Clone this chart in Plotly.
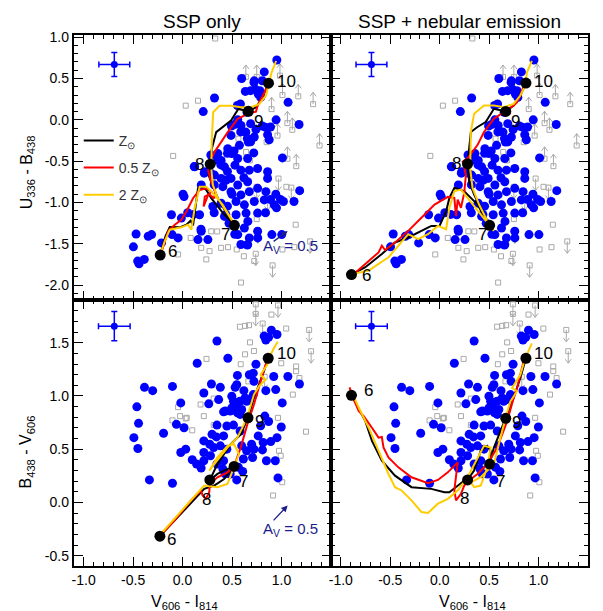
import plotly.graph_objects as go

# ---------------- data ----------------
AGE_LABELS = ["6", "7", "8", "9", "10"]
X_TICKS = [-1.0, -0.5, 0.0, 0.5, 1.0]
X_TICK_TEXT = ["-1.0", "-0.5", "0.0", "0.5", "1.0"]
UB_TICKS = [-2.0, -1.5, -1.0, -0.5, 0.0, 0.5, 1.0]
UB_TICK_TEXT = ["-2.0", "-1.5", "-1.0", "-0.5", "0.0", "0.5", "1.0"]
BV_TICKS = [-0.5, 0.0, 0.5, 1.0, 1.5]
BV_TICK_TEXT = ["-0.5", "0.0", "0.5", "1.0", "1.5"]

# observed galaxies, V606-I814 vs U336-B438
UB_OBS_X = [0.953, 0.826, 0.598, 0.725, 0.806, 0.735, 0.635, 0.765, 0.323, 0.79, 1.067, 0.585,
            0.209, 0.652, 0.946, 0.558, 1.178, 0.524, 0.591, 0.742, 0.836, 0.64, 0.725, 0.86,
            0.665, 0.69, 0.876, 0.49, 0.575, 0.457, 0.357, 0.497, 0.558, 0.658, 1.01, 0.39,
            0.424, 0.53, 0.59, 0.675, 0.759, 0.86, 0.86, 0.122, 0.223, 0.323, 0.39, 0.49,
            0.558, 0.658, 0.407, 0.49, 0.59, 0.675, 0.759, 0.843, 1.184, 0.943, 0.826, 0.725,
            0.625, 0.541, 0.39, 0.306, 0.005, 0.015, 0.189, 1.02, 1.127, 0.926, 0.759, 0.642,
            0.541, 0.424, 0.66, 0.759, 0.625, 0.558, 0.675, 0.76, 0.658, 0.59, 0.903, 1.003,
            0.172, -0.012, -0.112, 0.189, 0.156, -0.106, -0.213, -0.47, -0.347, -0.313, -0.497,
            -0.454, -0.387, -0.44, -0.045, 0.256, 0.99, 0.95, 0.889, 0.839, 0.454, 0.437,
            0.32, 0.528, 0.655, 0.186, 0.722, 0.688, 0.782, 0.555, 0.494, 0.688, 0.806,
            0.889, 0.588, 0.655, 0.688, 0.454, 0.521, 0.286, 0.354, 0.387, 0.454, 0.44,
            0.286, 0.32, 0.219, 0.052, 0.112, 0.118, 0.62, 0.72, 0.5, 0.47]
UB_OBS_Y = [0.724, 0.58, 0.50, 0.472, 0.473, 0.372, 0.344, 0.312, 0.264, 0.272, 0.212, 0.192,
            0.10, 0.092, 0.0, 0.0, -0.056, -0.056, -0.068, -0.116, -0.088, -0.148, -0.208, -0.18,
            -0.268, -0.25, -0.24, -0.188, -0.308, -0.348, -0.408, -0.408, -0.468, -0.468, -0.46,
            -0.49, -0.568, -0.548, -0.608, -0.608, -0.588, -0.628, -0.708, -0.568, -0.628,
            -0.668, -0.708, -0.708, -0.788, -0.748, -0.808, -0.868, -0.908, -0.868, -0.828,
            -0.868, -0.856, -0.9, -0.968, -0.988, -1.028, -0.988, -1.008, -1.048, -0.9, -0.928,
            -0.788, -0.988, -0.988, -1.028, -1.128, -1.128, -1.148, -1.168, -1.228, -1.348,
            -1.308, -1.388, -1.428, -1.428, -1.508, -1.508, -1.388, -1.388, -1.148, -1.188,
            -1.148, -1.348, -1.448, -1.388, -1.488, -1.38, -1.408, -1.388, -1.536, -1.708,
            -1.688, -1.74, -1.428, -1.448, -0.964, -1.064, -0.964, -1.124, -1.044, -1.144,
            -1.124, -1.383, -1.515, -1.323, 0.453, 0.353, 0.353, 0.174, -0.074, -0.046, -0.074,
            -0.086, -0.146, -0.225, -0.265, -0.405, -0.377, -0.425, -0.485, -0.545, -0.625,
            -0.73, -0.645, -0.785, -0.645, -1.124, -1.144, -0.565, -0.70, -0.40, -0.90, -1.25]

# observed galaxies, V606-I814 vs B438-V606
BV_OBS_X = [0.348, 0.148, 0.458, 0.898, 0.825, 0.955, 0.842, 0.87, 0.742, 0.715, 0.675, 0.555,
            0.548, 0.532, 0.292, 0.382, 0.215, 0.265, 0.498, 0.515, 0.532, 0.432, 0.632, 0.722,
            0.842, 0.922, 0.942, 1.065, 1.182, 1.008, -0.385, -0.302, -0.102, -0.462, -0.018,
            -0.445, -0.192, -0.062, 0.015, -0.492, -0.452, 0.032, -0.018, 0.098, 0.142, -0.335,
            -0.102, 0.365, 0.598, 0.555, 0.498, 0.675, 0.715, 0.415, 0.348, 0.448, 0.515,
            0.582, 0.298, 0.342, 0.415, 0.215, 0.275, 0.315, 0.382, 0.448, 0.215, 0.282, 0.415,
            0.215, 0.188, 0.348, 0.408, 0.598, 0.648, 0.698, 0.722, 0.615, 0.708, 0.565, 0.608,
            0.548, 0.482, 0.765, 0.815, 0.808, 0.892, 0.848, 0.938, 0.955, 0.998, 0.965, 0.832,
            0.87, 0.79, 0.648, 0.582, 0.482, 0.43, 0.62, 0.58]
BV_OBS_Y = [1.516, 1.307, 1.354, 1.618, 1.562, 1.577, 1.525, 1.55, 1.298, 1.214, 1.199, 1.193,
            1.106, 1.081, 1.112, 1.081, 1.028, 0.926, 0.997, 0.951, 0.913, 0.858, 0.981, 1.137,
            1.05, 1.183, 1.06, 1.183, 1.112, 0.935, 1.081, 1.05, 1.09, 0.898, 0.935, 0.743, 0.65,
            0.734, 0.702, 0.609, 0.507, 0.501, 0.469, 0.401, 0.361, 0.212, 0.181, 0.966, 0.873,
            0.842, 0.888, 0.966, 1.013, 0.851, 0.727, 0.718, 0.727, 0.671, 0.64, 0.616, 0.625,
            0.578, 0.547, 0.516, 0.532, 0.501, 0.469, 0.439, 0.392, 0.392, 0.324, 0.361, 0.315,
            0.532, 0.485, 0.547, 0.501, 0.408, 0.423, 0.33, 0.292, 0.212, 0.268, 0.625, 0.563,
            0.494, 0.572, 0.392, 0.392, 0.609, 0.709, 0.231, 0.811, 0.76, 0.72, 0.951, 0.827,
            0.858, 0.27, 1.05, 0.95]

# limits (grey squares): direction +1 = arrow up, -1 = arrow down, 0 = none
UB_LIM_X = [0.64, 0.75, 0.985, 1.01, 1.17, 1.32, 0.90, 1.06, 1.11, 0.96, 0.85, 1.385, 1.06,
            1.15, 0.97, 1.10, 0.75, 0.86, 0.76, 1.29, 0.91, 0.74, 0.33, 0.156, 0.032, -0.095,
            0.565, 0.642, 1.144, 0.082, 0.189, 0.24, 0.273, 0.39, 0.548, 0.725, 0.591, 1.01,
            0.29, -0.045, 0.62, 0.46, 1.13, 0.35, 0.75, 1.05, 0.68]
UB_LIM_Y = [0.52, 0.52, 0.535, 0.30, 0.285, 0.19, 0.13, -0.04, -0.12, -0.19, -0.27, -0.31,
            -0.47, -0.56, -0.71, -0.82, -0.81, -0.95, -1.35, -1.47, -1.76, -1.62, 0.984, 0.232,
            0.172, -0.436, -0.228, -0.388, -1.268, -1.428, -1.548, -1.688, -1.588, -1.548,
            -1.568, -1.708, -1.968, -1.568, -1.348, -1.628, -1.65, -1.54, -1.54, -1.35, -1.2,
            -0.81, -0.49]
UB_LIM_DIR = [1, 1, 1, 1, 1, 1, 1, 1, 1, 1, 1, 1, 1, 1, -1, -1, -1, -1, -1, -1, -1, -1,
              0, 0, 0, 0, 0, 0, 0, 0, 0, 0, 0, 0, 0, 0, 0, 0, 0, 0, 0, 0, 0, 0, 0, 0, 0]

BV_LIM_X = [0.74, 0.74, 0.81, 0.965, 1.28, 1.30, 0.83, 0.632, 0.682, 0.722, 0.632, 0.588,
            0.242, 0.998, 1.148, 1.148, 1.182, 1.048, 0.665, 0.365, 0.182, 0.215, 0.042, 0.965,
            -0.045, -0.025, 0.032, -0.102, 0.098, 0.315, 0.315, 0.975, 1.008, 0.915, 1.115,
            1.248, 0.992, 0.898, 0.58, 0.672]
BV_LIM_Y = [1.86, 1.77, 1.68, 1.85, 1.62, 1.42, 1.18, 1.658, 1.503, 1.422, 1.391, 1.298,
            1.348, 1.307, 1.277, 1.233, 1.168, 1.633, 1.137, 0.976, 0.92, 0.811, 0.795, 0.795,
            0.895, 0.811, 0.789, 0.771, 0.678, 0.976, 0.727, 0.485, 0.19, 0.066, 1.013, 0.665,
            0.439, 1.764, 1.65, 1.664]
BV_LIM_DIR = [-1, -1, -1, -1, -1, -1, -1, 0, 0, 0, 0, 0, 0, 0, 0, 0, 0, 0, 0, 0, 0, 0, 0, 0,
              0, 0, 0, 0, 0, 0, 0, 0, 0, 0, 0, 0, 0, 0, 0, 0]

# ---- model tracks: SSP only, U-B ----
SSP_UB_Z1_X = [-0.226, -0.173, -0.129, -0.028, 0.039, 0.082, 0.106, 0.156, 0.189, 0.24, 0.29,
               0.357, 0.424, 0.49, 0.524, 0.457, 0.373, 0.307, 0.263, 0.28, 0.296, 0.34, 0.407,
               0.49, 0.564, 0.665, 0.742, 0.809, 0.869]
SSP_UB_Z1_Y = [-1.636, -1.408, -1.296, -1.30, -1.268, -1.22, -1.276, -0.828, -0.808, -0.848,
               -0.948, -1.048, -1.148, -1.228, -1.276, -1.148, -0.988, -0.808, -0.668, -0.536,
               -0.348, -0.148, -0.088, -0.008, 0.132, 0.104, 0.152, 0.272, 0.444]
SSP_UB_Z05_X = [-0.226, -0.186, -0.146, -0.079, -0.012, 0.039, 0.106, 0.173, 0.24, 0.29, 0.255,
                0.213, 0.225, 0.27, 0.32, 0.33, 0.29, 0.26, 0.273, 0.323, 0.39, 0.457, 0.558,
                0.658, 0.742, 0.759, 0.826, 0.859]
SSP_UB_Z05_Y = [-1.648, -1.508, -1.348, -1.268, -1.208, -1.108, -0.948, -0.848, -0.828, -0.868,
                -0.92, -1.048, -0.93, -0.90, -0.95, -0.87, -0.75, -0.62, -0.508, -0.388, -0.268,
                -0.148, 0.012, 0.072, 0.10, 0.172, 0.324, 0.412]
SSP_UB_Z2_X = [-0.22, -0.18, -0.129, -0.012, 0.055, 0.089, 0.122, 0.173, 0.24, 0.323, 0.407,
               0.49, 0.558, 0.54, 0.457, 0.357, 0.307, 0.29, 0.296, 0.31, 0.374, 0.49, 0.59,
               0.692, 0.776, 0.843, 0.876, 0.9, 0.946]
SSP_UB_Z2_Y = [-1.608, -1.468, -1.328, -1.30, -1.268, -1.328, -1.068, -0.808, -0.808, -0.908,
               -1.028, -1.188, -1.328, -1.30, -1.128, -0.948, -0.788, -0.588, -0.228, 0.092,
               0.172, 0.172, 0.152, 0.152, 0.192, 0.292, 0.452, 0.572, 0.712]
SSP_UB_AGE_X = [-0.226, 0.524, 0.28, 0.665, 0.869]
SSP_UB_AGE_Y = [-1.636, -1.276, -0.536, 0.104, 0.444]

# ---- model tracks: SSP + nebular, U-B ----
NEB_UB_Z1_X = [-0.892, -0.752, -0.585, -0.452, -0.318, -0.218, -0.085, -0.002, 0.065, 0.098,
               0.148, 0.182, 0.248, 0.315, 0.382, 0.448, 0.505, 0.465, 0.398, 0.348, 0.298,
               0.282, 0.298, 0.315, 0.382, 0.465, 0.548, 0.668, 0.748, 0.815, 0.872]
NEB_UB_Z1_Y = [-1.871, -1.782, -1.623, -1.483, -1.423, -1.363, -1.283, -1.283, -1.104, -0.944,
               -0.824, -0.832, -0.864, -0.944, -1.024, -1.164, -1.275, -1.184, -1.024, -0.904,
               -0.745, -0.533, -0.345, -0.146, -0.086, -0.026, 0.134, 0.102, 0.174, 0.294, 0.445]
NEB_UB_Z05_X = [-0.885, -0.752, -0.618, -0.585, -0.552, -0.452, -0.318, -0.185, -0.052, 0.082,
                0.148, 0.165, 0.182, 0.215, 0.248, 0.265, 0.232, 0.282, 0.382, 0.448, 0.548,
                0.648, 0.748, 0.782, 0.815, 0.848]
NEB_UB_Z05_Y = [-1.883, -1.743, -1.603, -1.523, -1.575, -1.483, -1.343, -1.184, -1.024, -0.932,
                -0.944, -1.164, -0.964, -1.064, -0.884, -0.665, -0.505, -0.465, -0.305, -0.146,
                0.014, 0.094, 0.174, 0.214, 0.294, 0.413]
NEB_UB_Z2_X = [-0.868, -0.718, -0.518, -0.385, -0.318, -0.218, -0.118, -0.018, 0.065, 0.098,
               0.148, 0.215, 0.282, 0.365, 0.448, 0.548, 0.482, 0.398, 0.332, 0.308, 0.315,
               0.348, 0.448, 0.548, 0.648, 0.748, 0.815, 0.865, 0.882, 0.932]
NEB_UB_Z2_Y = [-1.863, -1.823, -1.663, -1.483, -1.383, -1.443, -1.383, -1.283, -1.323, -1.064,
               -0.864, -0.844, -0.944, -1.064, -1.184, -1.343, -1.224, -1.024, -0.824, -0.585,
               -0.146, 0.074, 0.174, 0.174, 0.154, 0.194, 0.294, 0.413, 0.573, 0.713]
NEB_UB_AGE_X = [-0.892, 0.505, 0.282, 0.668, 0.872]
NEB_UB_AGE_Y = [-1.871, -1.275, -0.533, 0.102, 0.445]

# ---- model tracks: SSP only, B-V ----
SSP_BV_Z1_X = [-0.229, -0.049, 0.119, 0.219, 0.32, 0.42, 0.521, 0.454, 0.353, 0.276, 0.353,
               0.487, 0.588, 0.662, 0.722, 0.789, 0.822, 0.866]
SSP_BV_Z1_Y = [-0.316, -0.136, 0.035, 0.128, 0.159, 0.221, 0.339, 0.314, 0.268, 0.212, 0.361,
               0.547, 0.64, 0.795, 0.982, 1.137, 1.23, 1.354]
SSP_BV_Z05_X = [-0.229, -0.082, 0.085, 0.186, 0.203, 0.236, 0.27, 0.276, 0.353, 0.454, 0.521,
                0.588, 0.655, 0.722, 0.789, 0.839, 0.873]
SSP_BV_Z05_Y = [-0.316, -0.167, 0.019, 0.113, 0.066, 0.035, 0.097, 0.175, 0.237, 0.283, 0.339,
                0.516, 0.733, 0.92, 1.137, 1.292, 1.37]
SSP_BV_Z2_X = [-0.216, -0.049, 0.119, 0.219, 0.353, 0.454, 0.487, 0.521, 0.571, 0.521, 0.454,
               0.353, 0.27, 0.32, 0.454, 0.554, 0.621, 0.672, 0.722, 0.772, 0.839, 0.789,
               0.856, 0.889, 0.923, 0.963]
SSP_BV_Z2_Y = [-0.291, -0.12, 0.051, 0.159, 0.144, 0.175, 0.252, 0.339, 0.454, 0.547, 0.532,
               0.423, 0.299, 0.361, 0.516, 0.609, 0.733, 0.858, 1.013, 1.09, 1.152, 1.199,
               1.292, 1.385, 1.447, 1.509]
SSP_BV_AGE_X = [-0.229, 0.521, 0.276, 0.662, 0.866]
SSP_BV_AGE_Y = [-0.316, 0.339, 0.212, 0.795, 1.354]

# ---- model tracks: SSP + nebular, B-V ----
NEB_BV_Z1_X = [-0.892, -0.818, -0.752, -0.685, -0.585, -0.452, -0.285, -0.085, 0.048, 0.098,
               0.165, 0.248, 0.282, 0.348, 0.415, 0.482, 0.515, 0.505, 0.548, 0.615, 0.668,
               0.748, 0.815, 0.872]
NEB_BV_Z1_Y = [1.006, 0.873, 0.764, 0.578, 0.392, 0.252, 0.144, 0.128, 0.097, 0.097, 0.144,
               0.206, 0.212, 0.299, 0.485, 0.532, 0.485, 0.361, 0.516, 0.671, 0.789, 0.982,
               1.168, 1.354]
NEB_BV_Z05_X = [-0.912, -0.868, -0.818, -0.768, -0.685, -0.618, -0.585, -0.568, -0.518, -0.418,
                -0.285, -0.118, -0.018, 0.082, 0.182, 0.165, 0.148, 0.165, 0.215, 0.248, 0.298,
                0.382, 0.482, 0.582, 0.648, 0.682, 0.748, 0.782, 0.815, 0.848]
NEB_BV_Z05_Y = [1.081, 0.966, 0.857, 0.811, 0.702, 0.609, 0.615, 0.516, 0.423, 0.33, 0.237,
                0.181, 0.212, 0.283, 0.377, 0.237, 0.113, 0.02, 0.082, 0.159, 0.206, 0.268,
                0.361, 0.516, 0.671, 0.764, 0.982, 1.075, 1.199, 1.323]
NEB_BV_Z2_X = [-0.892, -0.818, -0.718, -0.618, -0.518, -0.452, -0.385, -0.285, -0.185, -0.118,
               -0.018, 0.082, 0.182, 0.282, 0.382, 0.448, 0.515, 0.482, 0.415, 0.348, 0.315,
               0.415, 0.548, 0.632, 0.665, 0.715, 0.782, 0.732, 0.815, 0.865, 0.932]
NEB_BV_Z2_Y = [1.044, 0.889, 0.702, 0.485, 0.268, 0.144, 0.113, 0.02, -0.089, -0.098, -0.011,
               0.035, 0.113, 0.237, 0.423, 0.532, 0.516, 0.33, 0.159, 0.144, 0.19, 0.237, 0.361,
               0.671, 0.795, 0.95, 1.044, 1.075, 1.199, 1.354, 1.494]
NEB_BV_AGE_X = [-0.892, 0.505, 0.282, 0.668, 0.872]
NEB_BV_AGE_Y = [1.006, 0.361, 0.212, 0.79, 1.354]

# error-bar cross and reddening vector
ERR_UB = dict(x=-0.69, y=0.67, ex=0.156, ey=0.144)
ERR_BV = dict(x=-0.69, y=1.655, ex=0.16, ey=0.137)
AV_UB = dict(x0=0.906, y0=-1.483, x1=1.063, y1=-1.344)
AV_BV = dict(x0=0.906, y0=-0.182, x1=1.063, y1=-0.027)

# ---------------- style ----------------
W, H = 603, 611
FONT = "Liberation Sans, Arial, Helvetica, sans-serif"
XR = [-1.1, 1.5]
UBR = [-2.18, 1.03]
BVR = [-0.6, 1.9]
PX_L, PX_M, PX_R = 72, 330, 588
PY_T, PY_M, PY_B = 29, 297, 566
BLUE = "#0000ff"
GREY = "#a9a9a9"
RED = "#ff0000"
YELLOW = "#ffcc00"
NAVY = "#1c1c8c"

fig = go.Figure()

panels = [  # (xaxis, yaxis, yrange)
    ("x", "y", UBR), ("x2", "y2", UBR), ("x3", "y3", BVR), ("x4", "y4", BVR)]


def ppu(panel):
    xr = XR[1] - XR[0]
    yr = panel[2][1] - panel[2][0]
    return (PX_M - PX_L) / xr, (PY_M - PY_T) / yr


def add_limits(panel, lx, ly, ld):
    xa, ya, _ = panel
    px, py = ppu(panel)
    L, hw, hh = 12 / py, 3.0 / px, 4.0 / py
    sx, sy = [], []
    for x, y, d in zip(lx, ly, ld):
        if d == 0:
            continue
        tip = y + d * L
        sx += [x, x, None, x - hw, x, x + hw, None]
        sy += [y, tip, None, tip - d * hh, tip, tip - d * hh, None]
    fig.add_trace(go.Scatter(x=sx, y=sy, mode="lines", xaxis=xa, yaxis=ya,
                             line=dict(color=GREY, width=1), showlegend=False,
                             hoverinfo="skip"))
    fig.add_trace(go.Scatter(x=lx, y=ly, mode="markers", xaxis=xa, yaxis=ya,
                             marker=dict(symbol="square-open", size=5, color=GREY,
                                         line=dict(width=1, color=GREY)),
                             showlegend=False))


def add_err(panel, e):
    xa, ya, _ = panel
    fig.add_trace(go.Scatter(x=[e["x"]], y=[e["y"]], mode="markers", xaxis=xa, yaxis=ya,
                             marker=dict(color=BLUE, size=7),
                             error_x=dict(type="data", array=[e["ex"]], color=BLUE,
                                          thickness=1.5, width=3),
                             error_y=dict(type="data", array=[e["ey"]], color=BLUE,
                                          thickness=1.5, width=3),
                             showlegend=False))


def add_tracks(panel, tracks, legend):
    xa, ya, _ = panel
    for (tx, ty, col, name) in tracks:
        fig.add_trace(go.Scatter(x=tx, y=ty, mode="lines", xaxis=xa, yaxis=ya,
                                 line=dict(color=col, width=2), name=name,
                                 legendgroup=name, showlegend=legend))


names = ["Z<sub>⊙</sub>", "0.5 Z<sub>⊙</sub>", "2 Z<sub>⊙</sub>"]
setups = [
    (panels[0], UB_OBS_X, UB_OBS_Y, UB_LIM_X, UB_LIM_Y, UB_LIM_DIR, ERR_UB,
     [(SSP_UB_Z1_X, SSP_UB_Z1_Y, "black", names[0]),
      (SSP_UB_Z05_X, SSP_UB_Z05_Y, RED, names[1]),
      (SSP_UB_Z2_X, SSP_UB_Z2_Y, YELLOW, names[2])], SSP_UB_AGE_X, SSP_UB_AGE_Y, True,
     [(12, 4), (-9, -9), (-11, 0), (10, -10), (18, 2)]),
    (panels[1], UB_OBS_X, UB_OBS_Y, UB_LIM_X, UB_LIM_Y, UB_LIM_DIR, ERR_UB,
     [(NEB_UB_Z1_X, NEB_UB_Z1_Y, "black", names[0]),
      (NEB_UB_Z05_X, NEB_UB_Z05_Y, RED, names[1]),
      (NEB_UB_Z2_X, NEB_UB_Z2_Y, YELLOW, names[2])], NEB_UB_AGE_X, NEB_UB_AGE_Y, False,
     [(15, -1), (-7, -9), (-11, 0), (10, -10), (18, 2)]),
    (panels[2], BV_OBS_X, BV_OBS_Y, BV_LIM_X, BV_LIM_Y, BV_LIM_DIR, ERR_BV,
     [(SSP_BV_Z1_X, SSP_BV_Z1_Y, "black", names[0]),
      (SSP_BV_Z05_X, SSP_BV_Z05_Y, RED, names[1]),
      (SSP_BV_Z2_X, SSP_BV_Z2_Y, YELLOW, names[2])], SSP_BV_AGE_X, SSP_BV_AGE_Y, False,
     [(12, -3), (9, -15), (-3, -20), (11, -4), (18, 5)]),
    (panels[3], BV_OBS_X, BV_OBS_Y, BV_LIM_X, BV_LIM_Y, BV_LIM_DIR, ERR_BV,
     [(NEB_BV_Z1_X, NEB_BV_Z1_Y, "black", names[0]),
      (NEB_BV_Z05_X, NEB_BV_Z05_Y, RED, names[1]),
      (NEB_BV_Z2_X, NEB_BV_Z2_Y, YELLOW, names[2])], NEB_BV_AGE_X, NEB_BV_AGE_Y, False,
     [(17, 5), (11, -17), (-3, -19), (11, -4), (18, 5)]),
]

annotations = []
for (panel, ox, oy, lx, ly, ld, err, tracks, agx, agy, leg, offs) in setups:
    xa, ya, _ = panel
    add_limits(panel, lx, ly, ld)
    fig.add_trace(go.Scatter(x=ox, y=oy, mode="markers", xaxis=xa, yaxis=ya,
                             marker=dict(color=BLUE, size=9), showlegend=False))
    add_err(panel, err)
    add_tracks(panel, tracks, leg)
    fig.add_trace(go.Scatter(x=agx, y=agy, mode="markers", xaxis=xa, yaxis=ya,
                             marker=dict(color="black", size=11), showlegend=False))
    for lab, x, y, (dx, dy) in zip(AGE_LABELS, agx, agy, offs):
        annotations.append(dict(x=x, y=y, xref=xa, yref=ya, text=lab, showarrow=False,
                                xanchor="center", yanchor="middle",
                                xshift=dx, yshift=dy,
                                font=dict(family=FONT, size=17, color="black")))

# reddening vectors (left panels only)
for av, (xa, ya), tshift in [(AV_UB, ("x", "y"), -4), (AV_BV, ("x3", "y3"), -8)]:
    annotations.append(dict(x=av["x1"], y=av["y1"], ax=av["x0"], ay=av["y0"],
                            xref=xa, yref=ya, axref=xa, ayref=ya, text="",
                            showarrow=True, arrowhead=2, arrowsize=1, arrowwidth=1.3,
                            arrowcolor=NAVY))
    annotations.append(dict(x=av["x0"], y=av["y0"], xref=xa, yref=ya,
                            text="A<sub>V</sub> = 0.5", showarrow=False,
                            xanchor="left", yanchor="middle", xshift=-11, yshift=tshift,
                            font=dict(family=FONT, size=15, color=NAVY)))

# titles
xc_l = (PX_L + PX_M) / 2 / W
xc_r = (PX_M + PX_R) / 2 / W
for xc, txt in [(xc_l, "SSP only"), (xc_r, "SSP + nebular emission")]:
    annotations.append(dict(x=xc, y=1 - 16 / H, xref="paper", yref="paper", text=txt,
                            xanchor="center", yanchor="middle",
                            showarrow=False, font=dict(family=FONT, size=19, color="black")))
for yc, txt in [(1 - 168 / H, "U<sub>336</sub> - B<sub>438</sub>"),
                (1 - 450 / H, "B<sub>438</sub> - V<sub>606</sub>")]:
    annotations.append(dict(x=25 / W, y=yc, xref="paper", yref="paper", text=txt,
                            textangle=-90, showarrow=False, xanchor="center",
                            yanchor="middle",
                            font=dict(family=FONT, size=16, color="black")))
for xc in [183 / W, 472 / W]:
    annotations.append(dict(x=xc, y=1 - 602 / H, xref="paper", yref="paper",
                            text="V<sub>606</sub> - I<sub>814</sub>", showarrow=False,
                            xanchor="center", yanchor="middle",
                            font=dict(family=FONT, size=16, color="black")))

# axes
def axis_style(rng, vals, texts, labels):
    return dict(range=rng, tickmode="array", tickvals=vals, ticktext=texts,
                showticklabels=labels, ticks="inside", ticklen=9, tickwidth=1.3,
                tickcolor="black", showline=True, linewidth=2, linecolor="black",
                mirror="ticks", showgrid=False, zeroline=False,
                tickfont=dict(family=FONT, size=14, color="black"),
                minor=dict(ticks="inside", ticklen=4, tickwidth=1, tickcolor="black",
                           tick0=0, dtick=0.1, showgrid=False))

dxl = [PX_L / W, PX_M / W]
dxr = [PX_M / W, PX_R / W]
dyt = [1 - PY_M / H, 1 - PY_T / H]
dyb = [1 - PY_B / H, 1 - PY_M / H]

layout = dict(
    width=W, height=H, margin=dict(l=0, r=0, t=0, b=0),
    paper_bgcolor="white", plot_bgcolor="white",
    showlegend=True,
    legend=dict(x=77 / W, y=1 - 120 / H, xanchor="left", yanchor="top",
                bgcolor="rgba(0,0,0,0)", borderwidth=0, tracegroupgap=6,
                font=dict(family=FONT, size=14, color="#333333")),
    annotations=annotations,
)
layout["xaxis"] = dict(axis_style(XR, X_TICKS, X_TICK_TEXT, False), domain=dxl, anchor="y")
layout["xaxis2"] = dict(axis_style(XR, X_TICKS, X_TICK_TEXT, False), domain=dxr, anchor="y2")
layout["xaxis3"] = dict(axis_style(XR, X_TICKS, X_TICK_TEXT, True), domain=dxl, anchor="y3")
layout["xaxis4"] = dict(axis_style(XR, X_TICKS, X_TICK_TEXT, True), domain=dxr, anchor="y4")
layout["yaxis"] = dict(axis_style(UBR, UB_TICKS, UB_TICK_TEXT, True), domain=dyt, anchor="x")
layout["yaxis2"] = dict(axis_style(UBR, UB_TICKS, UB_TICK_TEXT, False), domain=dyt, anchor="x2")
layout["yaxis3"] = dict(axis_style(BVR, BV_TICKS, BV_TICK_TEXT, True), domain=dyb, anchor="x3")
layout["yaxis4"] = dict(axis_style(BVR, BV_TICKS, BV_TICK_TEXT, False), domain=dyb, anchor="x4")

fig.update_layout(**layout)
fig.write_html("out.html")
